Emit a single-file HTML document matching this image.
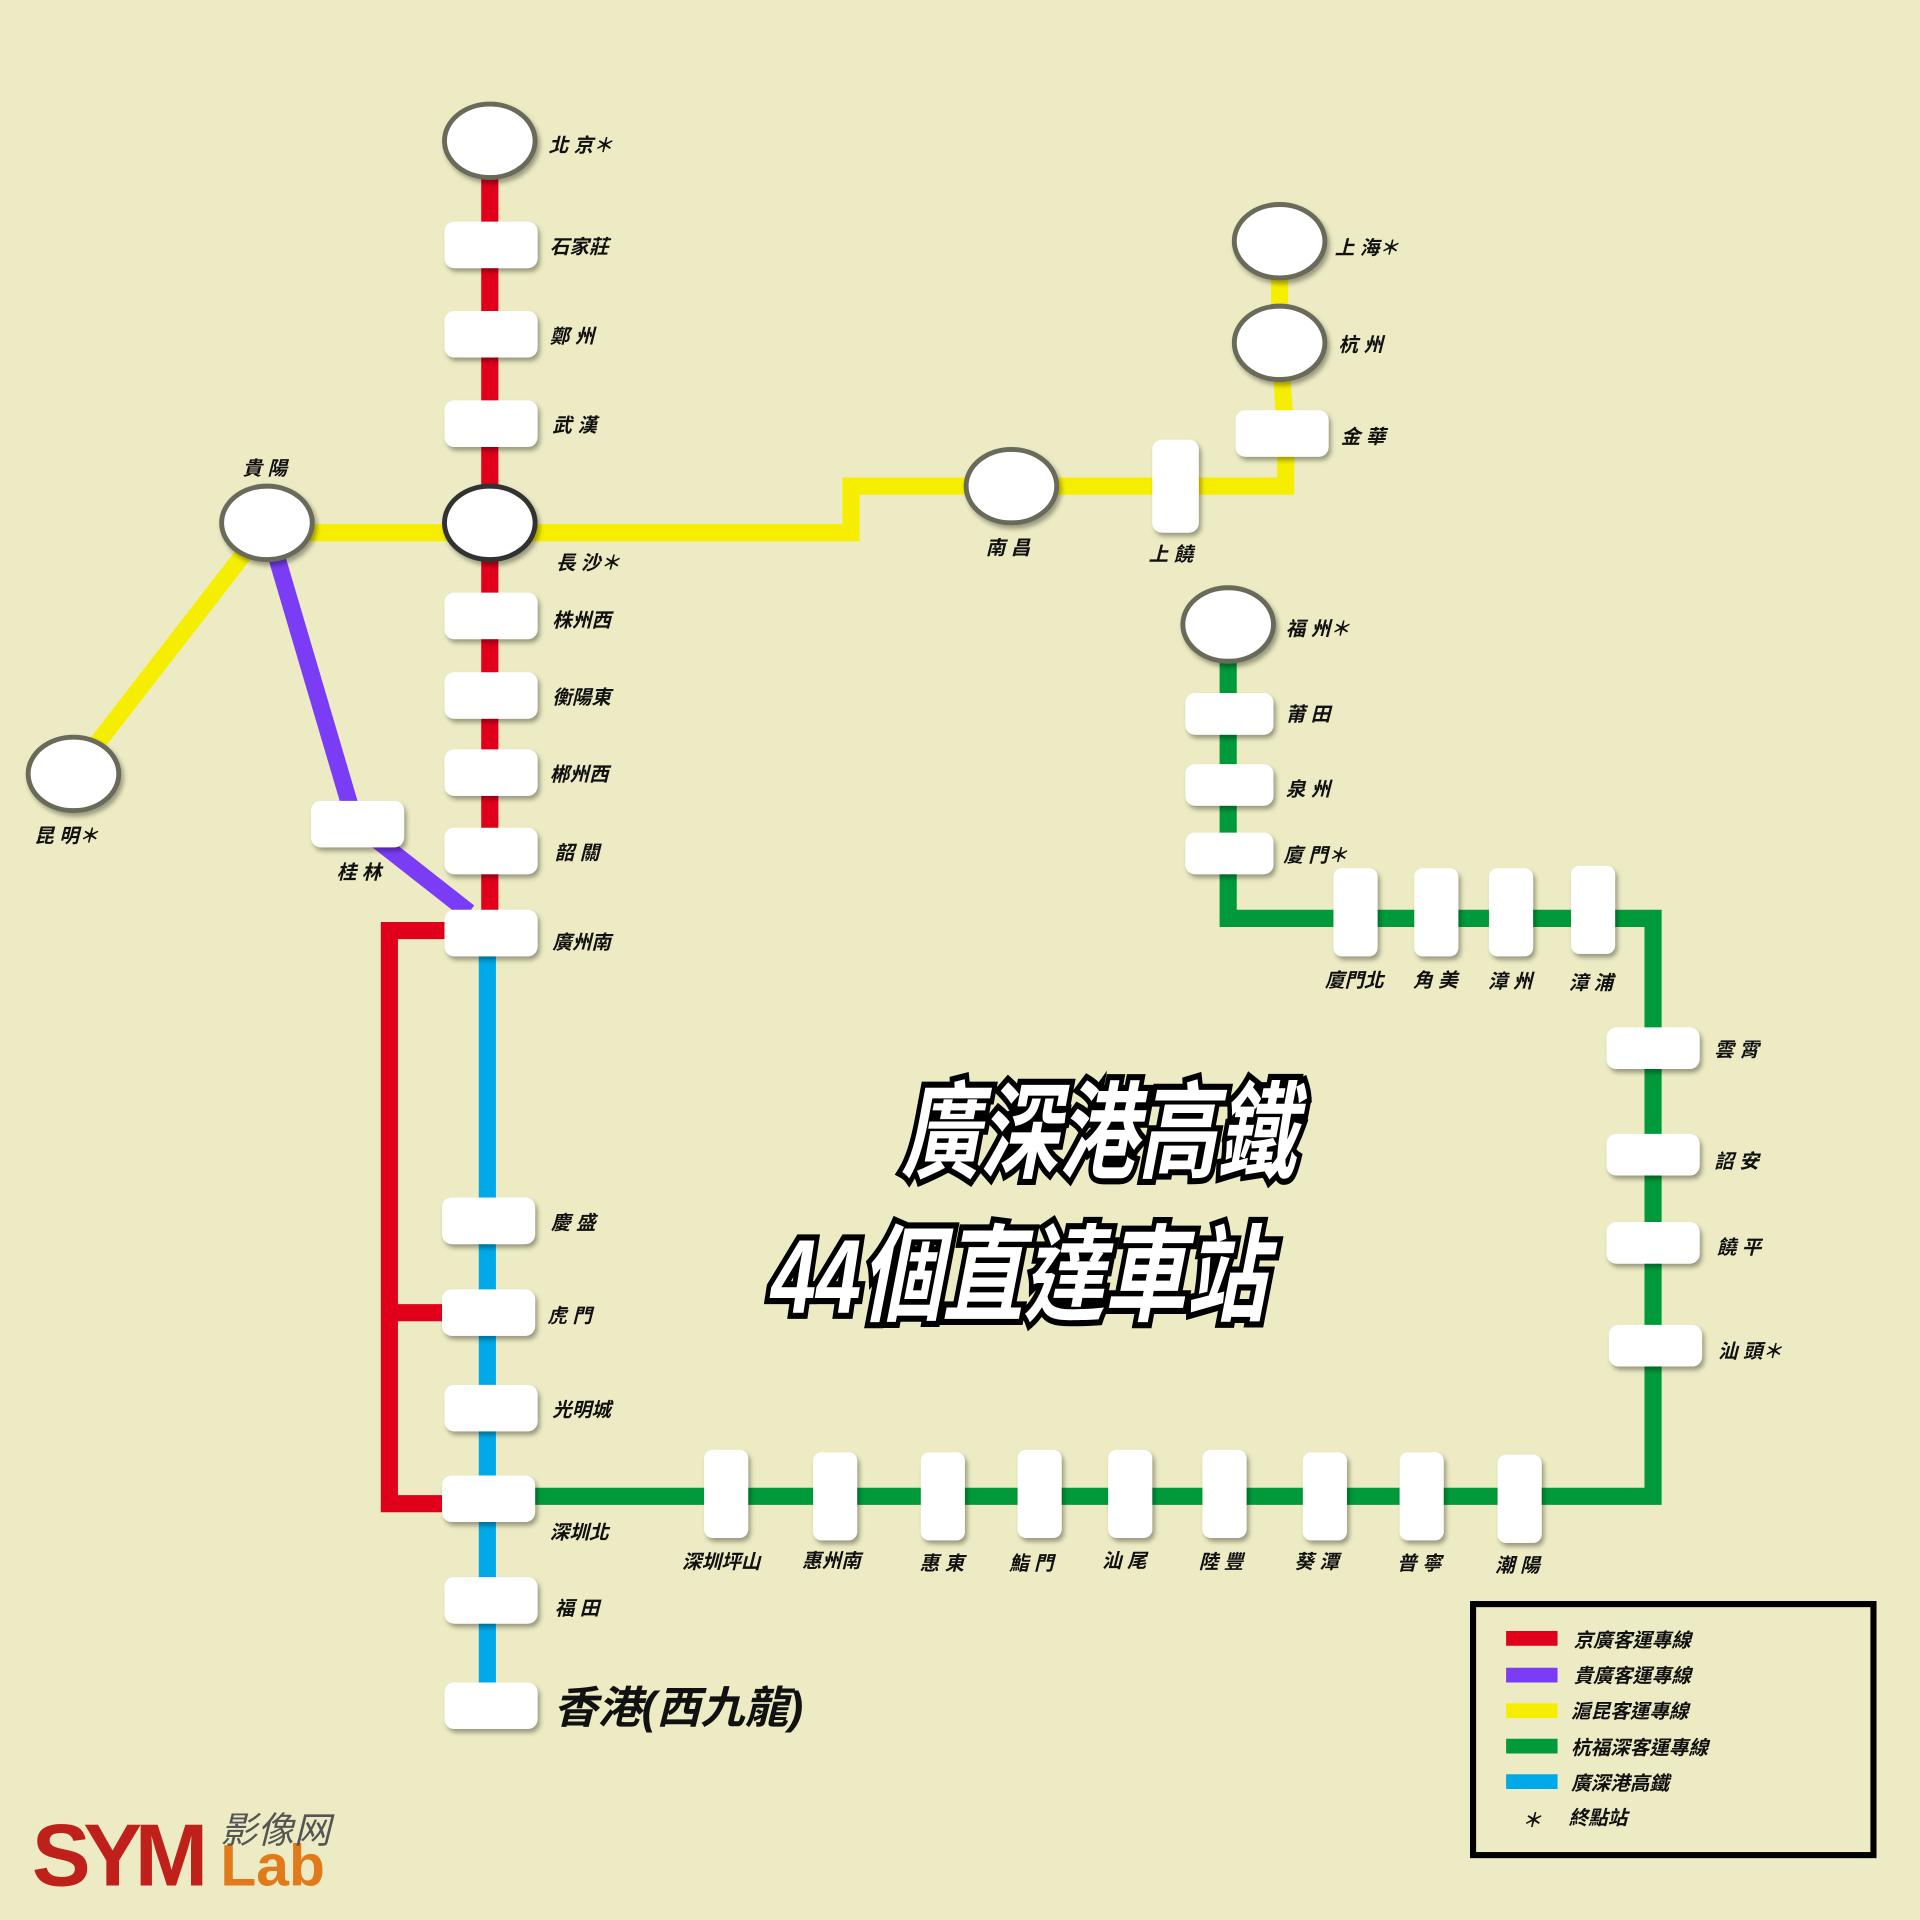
<!DOCTYPE html>
<html><head><meta charset="utf-8"><style>
html,body{margin:0;padding:0;background:#ecebc3;}
svg{display:block}
text{font-family:"Liberation Sans","Noto Sans CJK TC",sans-serif;font-weight:bold;font-style:italic;fill:#111;}
.l{font-size:16px}
</style></head><body>
<svg width="1920" height="1920" viewBox="0 0 1568 1568" xmlns="http://www.w3.org/2000/svg">
<defs>
<filter id="sh" x="-20%" y="-20%" width="140%" height="140%"><feDropShadow dx="2" dy="3" stdDeviation="2" flood-color="#000" flood-opacity="0.35"/></filter>
</defs>
<rect width="1568" height="1568" fill="#ecebc3"/>
<g fill="none" stroke-width="14">
<polyline points="400,115 400,762" stroke="#e0001b"/>
<polyline points="365,760 318,760 318,1228 365,1228" stroke="#e0001b"/>
<line x1="318" y1="1072" x2="365" y2="1072" stroke="#e0001b"/>
<polyline points="398,780 398,1390" stroke="#00a9e8"/>
<polyline points="218,428 290,672 383,745" stroke="#7b3cf6"/>
<polyline points="60,632 218,428" stroke="#f6ee00"/>
<polyline points="218,435 695,435 695,397 1050,397 1050,355 1045,280 1045,200" stroke="#f6ee00"/>
<polyline points="1003,512 1003,750 1350,750 1350,1222 400,1222" stroke="#009a3a"/>
</g>
<g fill="#fff" stroke="#6a6a5a" stroke-width="4" filter="url(#sh)">
<ellipse cx="400" cy="115" rx="37" ry="30"/>
<ellipse cx="400" cy="427" rx="37" ry="30" stroke="#333"/>
<ellipse cx="60" cy="632" rx="37" ry="30"/>
<ellipse cx="218" cy="427" rx="37" ry="30"/>
<ellipse cx="826" cy="397" rx="37" ry="30"/>
<ellipse cx="1045" cy="280" rx="37" ry="30"/>
<ellipse cx="1045" cy="197" rx="37" ry="30"/>
<ellipse cx="1003" cy="510" rx="37" ry="30"/>
</g>
<g fill="#fff" filter="url(#sh)">
<rect x="363" y="181" width="76" height="38" rx="8"/>
<rect x="363" y="254" width="76" height="38" rx="8"/>
<rect x="363" y="327" width="76" height="38" rx="8"/>
<rect x="363" y="484" width="76" height="38" rx="8"/>
<rect x="363" y="549" width="76" height="38" rx="8"/>
<rect x="363" y="612" width="76" height="38" rx="8"/>
<rect x="363" y="676" width="76" height="38" rx="8"/>
<rect x="363" y="743" width="76" height="38" rx="8"/>
<rect x="361" y="978" width="76" height="38" rx="8"/>
<rect x="361" y="1053" width="76" height="38" rx="8"/>
<rect x="363" y="1131" width="76" height="38" rx="8"/>
<rect x="361" y="1205" width="76" height="38" rx="8"/>
<rect x="363" y="1288" width="76" height="38" rx="8"/>
<rect x="363" y="1374" width="76" height="38" rx="8"/>
<rect x="254" y="654" width="76" height="38" rx="8"/>
<rect x="1009" y="335" width="76" height="38" rx="8"/>
<rect x="941" y="359" width="38" height="76" rx="8"/>
<rect x="968" y="566" width="72" height="34" rx="8"/>
<rect x="968" y="624" width="72" height="34" rx="8"/>
<rect x="968" y="680" width="72" height="34" rx="8"/>
<rect x="1089" y="709" width="36" height="72" rx="7"/>
<rect x="1155" y="709" width="36" height="72" rx="7"/>
<rect x="1216" y="709" width="36" height="72" rx="7"/>
<rect x="1283" y="707" width="36" height="72" rx="7"/>
<rect x="1312" y="839" width="76" height="34" rx="8"/>
<rect x="1312" y="926" width="76" height="34" rx="8"/>
<rect x="1312" y="998" width="76" height="34" rx="8"/>
<rect x="1314" y="1082" width="76" height="34" rx="8"/>
<rect x="575" y="1184" width="36" height="72" rx="7"/>
<rect x="664" y="1186" width="36" height="72" rx="7"/>
<rect x="752" y="1186" width="36" height="72" rx="7"/>
<rect x="831" y="1184" width="36" height="72" rx="7"/>
<rect x="905" y="1184" width="36" height="72" rx="7"/>
<rect x="982" y="1184" width="36" height="72" rx="7"/>
<rect x="1064" y="1186" width="36" height="72" rx="7"/>
<rect x="1143" y="1186" width="36" height="72" rx="7"/>
<rect x="1223" y="1188" width="36" height="72" rx="7"/>
</g>
<g class="l">
<text class="l" x="448" y="124">北 京＊</text>
<text class="l" x="449" y="207">石家莊</text>
<text class="l" x="449" y="280">鄭 州</text>
<text class="l" x="451" y="353">武 漢</text>
<text class="l" x="454" y="465">長 沙＊</text>
<text class="l" x="451" y="512">株州西</text>
<text class="l" x="451" y="575">衡陽東</text>
<text class="l" x="449" y="638">郴州西</text>
<text class="l" x="453" y="702">韶 關</text>
<text class="l" x="451" y="775">廣州南</text>
<text class="l" x="450" y="1004">慶 盛</text>
<text class="l" x="447" y="1080">虎 門</text>
<text class="l" x="451" y="1157">光明城</text>
<text class="l" x="449" y="1257">深圳北</text>
<text class="l" x="453" y="1319">福 田</text>
<text class="l" x="28" y="688">昆 明＊</text>
<text class="l" x="198" y="388">貴 陽</text>
<text class="l" x="275" y="718">桂 林</text>
<text class="l" x="805" y="453">南 昌</text>
<text class="l" x="938" y="458">上 饒</text>
<text class="l" x="1095" y="362">金 華</text>
<text class="l" x="1093" y="287">杭 州</text>
<text class="l" x="1090" y="208">上 海＊</text>
<text class="l" x="1050" y="519">福 州＊</text>
<text class="l" x="1050" y="589">莆 田</text>
<text class="l" x="1050" y="650">泉 州</text>
<text class="l" x="1048" y="704">廈 門＊</text>
<text class="l" x="1082" y="806">廈門北</text>
<text class="l" x="1154" y="806">角 美</text>
<text class="l" x="1215" y="807">漳 州</text>
<text class="l" x="1281" y="808">漳 浦</text>
<text class="l" x="1400" y="863">雲 霄</text>
<text class="l" x="1400" y="954">詔 安</text>
<text class="l" x="1402" y="1024">饒 平</text>
<text class="l" x="1403" y="1109">汕 頭＊</text>
<text class="l" x="557" y="1281">深圳坪山</text>
<text class="l" x="655" y="1280">惠州南</text>
<text class="l" x="751" y="1282">惠 東</text>
<text class="l" x="824" y="1282">鮨 門</text>
<text class="l" x="900" y="1280">汕 尾</text>
<text class="l" x="979" y="1281">陸 豐</text>
<text class="l" x="1057" y="1281">葵 潭</text>
<text class="l" x="1141" y="1282">普 寧</text>
<text class="l" x="1221" y="1284">潮 陽</text>
</g>
<text x="452" y="1407" style="font-size:36px">香港(西九龍)</text>
<g style="font-size:86px;font-weight:900;" text-anchor="middle">
<text transform="translate(897,955) scale(0.75,1)" x="0" y="0" stroke="#000" stroke-width="10" style="paint-order:stroke;fill:#fff">廣深港高鐵</text>
<text transform="translate(832,1072) scale(0.77,1)" x="0" y="0" stroke="#000" stroke-width="10" style="paint-order:stroke;fill:#fff">44個直達車站</text>
</g>
<line x1="1045" y1="988" x2="1190" y2="988" stroke="#fff" stroke-width="7" stroke-linecap="round" filter="url(#sh)"/>
<line x1="1070" y1="1048" x2="1208" y2="1048" stroke="#fff" stroke-width="7" stroke-linecap="round" filter="url(#sh)"/>
<rect x="1203" y="1310" width="327" height="205" fill="none" stroke="#000" stroke-width="5"/>
<g stroke-width="12">
<line x1="1230" y1="1338" x2="1272" y2="1338" stroke="#e0001b"/>
<line x1="1230" y1="1368" x2="1272" y2="1368" stroke="#7b3cf6"/>
<line x1="1230" y1="1397" x2="1272" y2="1397" stroke="#f6ee00"/>
<line x1="1230" y1="1426" x2="1272" y2="1426" stroke="#009a3a"/>
<line x1="1230" y1="1455" x2="1272" y2="1455" stroke="#00a9e8"/>
</g>
<text class="l" x="1285" y="1345">京廣客運專線</text>
<text class="l" x="1285" y="1374">貴廣客運專線</text>
<text class="l" x="1283" y="1403">滬昆客運專線</text>
<text class="l" x="1283" y="1433">杭福深客運專線</text>
<text class="l" x="1283" y="1462">廣深港高鐵</text>
<text class="l" x="1243" y="1492">＊</text>
<text class="l" x="1281" y="1490">終點站</text>
<text x="26" y="1540" style="font-size:72px;font-weight:900;font-style:normal;fill:#c0201a;letter-spacing:-6px">SYM</text>
<text x="180" y="1540" style="font-size:48px;font-weight:900;font-style:normal;fill:#e07a1a">Lab</text>
<text x="180" y="1505" style="font-size:30px;font-weight:normal;fill:#555">影像网</text>
</svg>
</body></html>
